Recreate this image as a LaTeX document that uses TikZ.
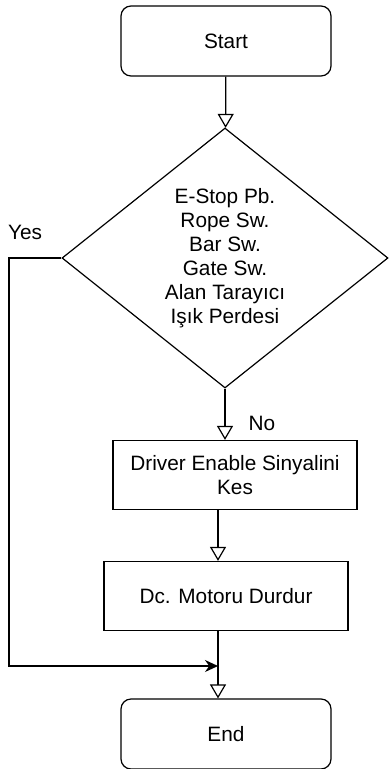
\documentclass[tikz,border=0pt]{standalone}
\usepackage{fontspec}
\setmainfont{Liberation Sans}
\usetikzlibrary{shapes.geometric,arrows.meta}

\begin{document}
\begin{tikzpicture}[x=1pt, y=-1pt, line width=1.2pt,
    font=\fontsize{20.8}{24}\selectfont,
    terminal/.style={draw, rounded corners=10pt, minimum width=210pt, minimum height=70pt, inner sep=0pt},
    process/.style={draw, minimum width=244pt, minimum height=69pt, inner sep=0pt, align=center},
    decision/.style={draw, diamond, aspect=1.25, minimum width=326pt, minimum height=260pt, inner sep=0pt, align=center},
    flow/.style={-{Triangle[open, length=14pt, width=16pt]}},
    back/.style={-{Stealth[length=13pt, width=12pt]}}]
\useasboundingbox (0, 0) rectangle (389, 769);
\begin{scope}
        \node[terminal] (start) at (226, 41) {Start};
        \node[decision] (dec) at (225, 258) {E-Stop Pb.\\Rope Sw.\\Bar Sw.\\Gate Sw.\\Alan Tarayıcı\\Işık Perdesi};
        \node[process] (drv) at (235, 475) {Driver Enable Sinyalini\\Kes};
        \node[process] (dc) at (226, 596) {Dc. Motoru Durdur};
        \node[terminal] (end) at (226, 734) {End};
        \coordinate (spine) at (218, 0);
        \coordinate (join) at (218, 666);
        \coordinate (side) at (9, 0);
        \node (yes) at (25, 232) {Yes};
        \node (no) at (262, 423) {No};
        \draw[flow] (start) -- (dec);
        \draw[flow] (dec.south) -- (dec.south |- drv.north);
        \draw[flow] (drv.south -| spine) -- (dc.north -| spine);
        \draw[flow] (dc.south -| spine) -- (end.north -| spine);
        \draw[back] (dec.west) -- (dec.west -| side) -- (join -| side) -- (join);
\end{scope}
\end{tikzpicture}
\end{document}
